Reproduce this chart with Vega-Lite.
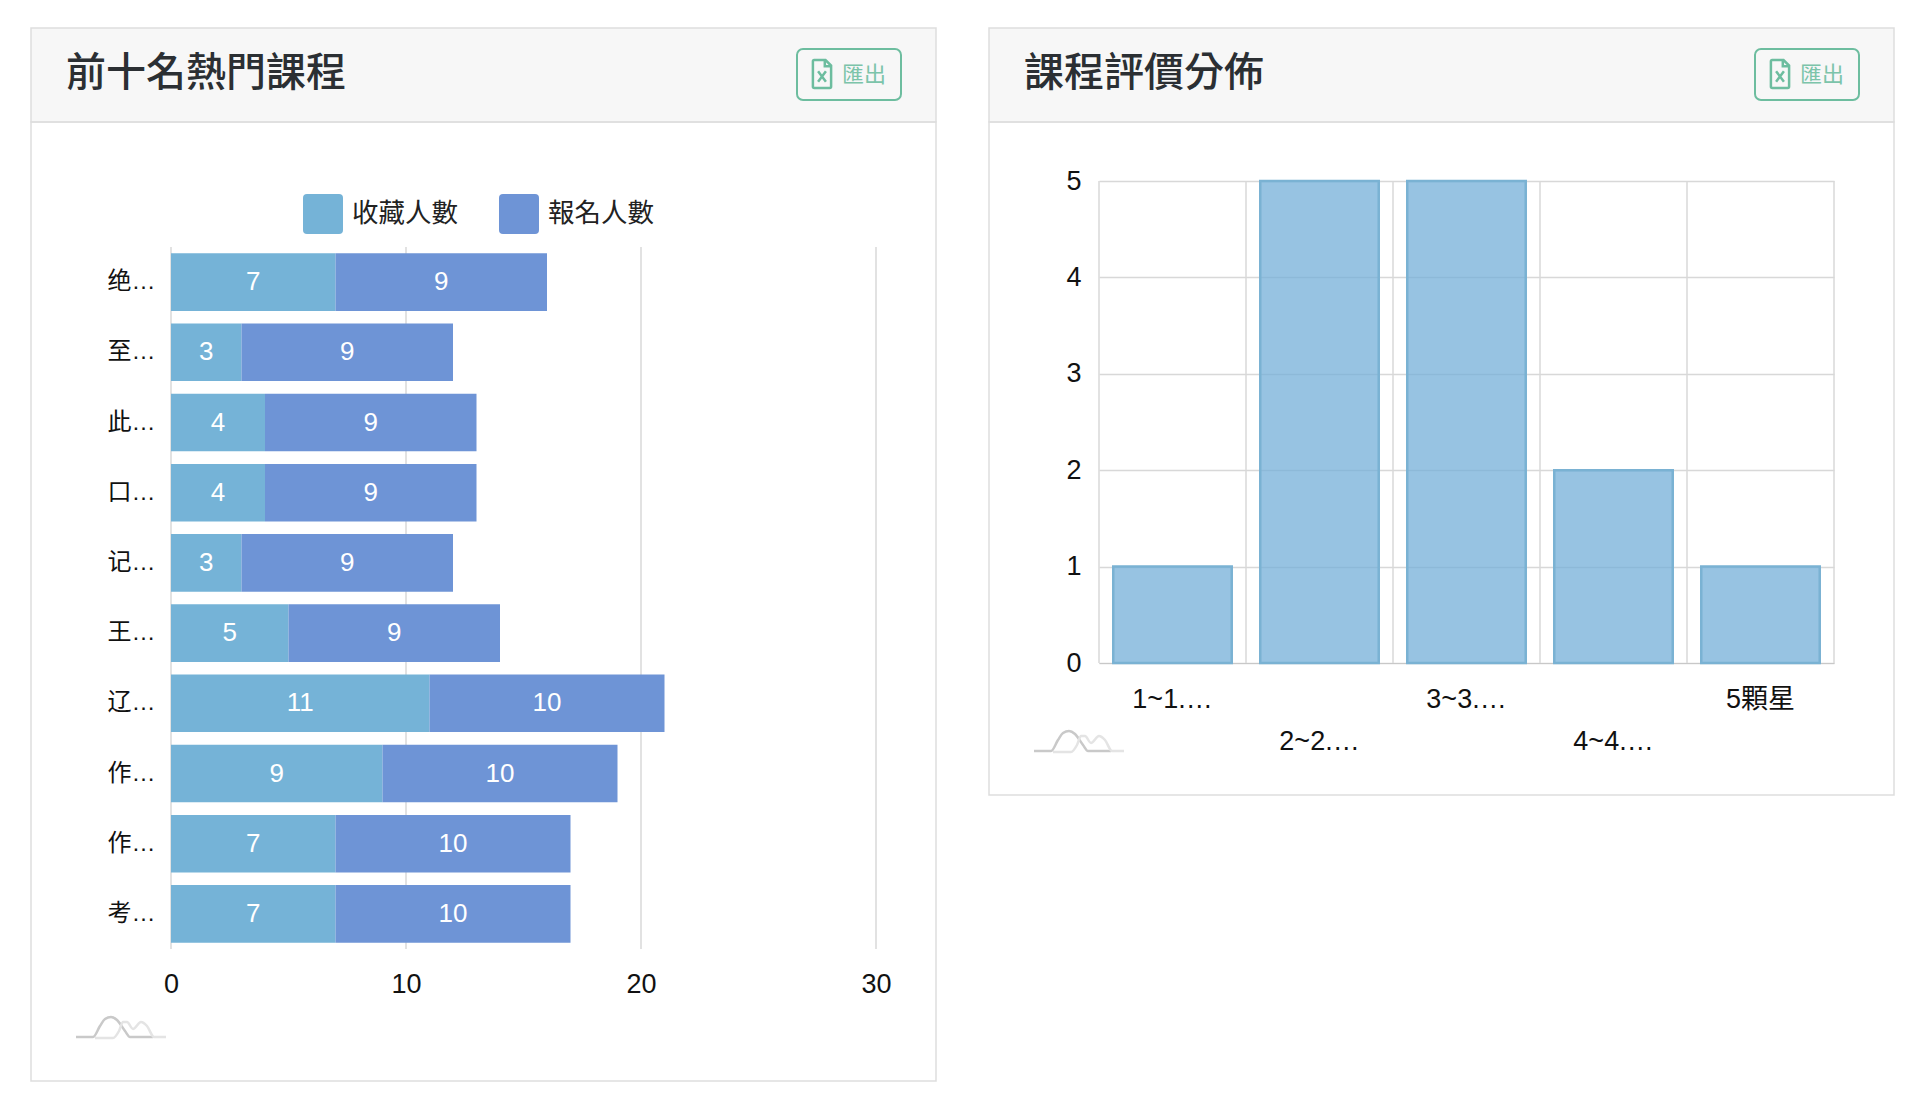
{
"$schema":"https://vega.github.io/schema/vega-lite/v6.json",
"padding":{"left":30,"top":27,"right":0,"bottom":0},
"background":"#ffffff",
"spacing":51,
"config":{"font":"Liberation Sans, Noto Sans CJK TC","view":{"stroke":"#dedede","strokeWidth":1.5},"concat":{"spacing":0}},
"datasets":{
"logoDark":[{"a":0,"b":20},{"a":17,"b":20},{"a":24,"b":9},{"a":29,"b":2},{"a":35,"b":0},{"a":41,"b":3},{"a":49,"b":14},{"a":54,"b":20},{"a":77,"b":20}],
"logoLight":[{"a":19,"b":21},{"a":37,"b":21},{"a":43,"b":14},{"a":47,"b":5},{"a":51,"b":5},{"a":57,"b":12},{"a":65,"b":5},{"a":71,"b":9},{"a":78,"b":20},{"a":90,"b":20}],
"courses":[
{"course":"绝…","series":"收藏人數","s":0,"n":7},{"course":"绝…","series":"報名人數","s":1,"n":9},
{"course":"至…","series":"收藏人數","s":0,"n":3},{"course":"至…","series":"報名人數","s":1,"n":9},
{"course":"此…","series":"收藏人數","s":0,"n":4},{"course":"此…","series":"報名人數","s":1,"n":9},
{"course":"口…","series":"收藏人數","s":0,"n":4},{"course":"口…","series":"報名人數","s":1,"n":9},
{"course":"记…","series":"收藏人數","s":0,"n":3},{"course":"记…","series":"報名人數","s":1,"n":9},
{"course":"王…","series":"收藏人數","s":0,"n":5},{"course":"王…","series":"報名人數","s":1,"n":9},
{"course":"辽…","series":"收藏人數","s":0,"n":11},{"course":"辽…","series":"報名人數","s":1,"n":10},
{"course":"作…","series":"收藏人數","s":0,"n":9},{"course":"作…","series":"報名人數","s":1,"n":10},
{"course":"作… ","series":"收藏人數","s":0,"n":7},{"course":"作… ","series":"報名人數","s":1,"n":10},
{"course":"考…","series":"收藏人數","s":0,"n":7},{"course":"考…","series":"報名人數","s":1,"n":10}
],
"ratings":[{"rating":"1~1.…","count":1},{"rating":"2~2.…","count":5},{"rating":"3~3.…","count":5},{"rating":"4~4.…","count":2},{"rating":"5顆星","count":1}]
},
"hconcat":[
{"spacing":0,"bounds":"flush","vconcat":[
{"width":905,"height":94,"view":{"fill":"#f7f7f7"},"data":{"values":[{"title":"前十名熱門課程","btn":"匯出"}]},
"encoding":{},
"layer":[
{"mark":{"type":"rect","fill":"#f7f7f7","stroke":"#6dbd9f","strokeWidth":2,"cornerRadius":6},"encoding":{"x":{"datum":766,"type":"quantitative","scale":{"domain":[0,905],"range":[0,905],"nice":false},"axis":null},"x2":{"datum":870},"y":{"datum":21,"type":"quantitative","scale":{"domain":[0,94],"range":[0,94],"nice":false},"axis":null},"y2":{"datum":72}}},
{"mark":{"type":"text","align":"left","baseline":"middle","fontSize":40,"fontWeight":500,"color":"#2b2f33","font":"Noto Sans CJK TC"},"encoding":{"text":{"field":"title"},"x":{"datum":35,"type":"quantitative"},"y":{"datum":46,"type":"quantitative"}}},
{"mark":{"type":"text","align":"left","baseline":"middle","fontSize":22,"color":"#7cc4aa","font":"Noto Sans CJK TC"},"encoding":{"text":{"field":"btn"},"x":{"datum":811,"type":"quantitative"},"y":{"datum":47,"type":"quantitative"}}},
{"mark":{"type":"point","filled":false,"size":784,"strokeWidth":2.5,"color":"#6dbd9f","opacity":1,"shape":"M-0.6,-1 L0.25,-1 L0.65,-0.6 L0.65,0.9 Q0.65,1 0.55,1 L-0.55,1 Q-0.65,1 -0.65,0.9 L-0.65,-0.9 Q-0.65,-1 -0.55,-1 Z M0.2,-1 L0.2,-0.55 L0.65,-0.55 M-0.28,-0.2 L0.28,0.55 M0.28,-0.2 L-0.28,0.55"},"encoding":{"x":{"datum":791,"type":"quantitative"},"y":{"datum":46,"type":"quantitative"}}}
]},
{"width":905,"height":959,
"resolve":{"scale":{"x":"independent","y":"independent","color":"independent"},"axis":{"x":"independent","y":"independent"}},
"layer":[
{"data":{"values":[{"g":0},{"g":10},{"g":20},{"g":30}]},"mark":{"type":"rule","color":"#d8d8d8","strokeWidth":1.5},"encoding":{"x":{"field":"g","type":"quantitative","scale":{"domain":[0,30],"range":[140,845],"nice":false},"axis":null},"y":{"datum":0,"type":"quantitative","scale":{"domain":[0,1],"range":[125,827],"nice":false},"axis":null},"y2":{"datum":1}}},
{"data":{"name":"courses"},
"transform":[{"stack":"n","groupby":["course"],"sort":[{"field":"s","order":"ascending"}],"as":["v0","v1"]}],
"encoding":{"y":{"field":"course","type":"nominal","sort":null,"scale":{"domain":["绝…","至…","此…","口…","记…","王…","辽…","作…","作… ","考…"],"range":[125,827],"paddingInner":0.18,"paddingOuter":0.09},"axis":{"title":null,"offset":-140,"ticks":false,"domain":false,"grid":false,"labelPadding":16,"labelFontSize":24,"labelColor":"#111111","labelFont":"Liberation Sans, Noto Sans CJK TC"}}},
"layer":[
{"mark":{"type":"bar"},"encoding":{
"x":{"field":"v0","type":"quantitative","scale":{"domain":[0,30],"range":[140,845],"nice":false},"axis":{"title":null,"values":[0,10,20,30],"offset":-132,"ticks":false,"domain":false,"grid":false,"labelPadding":22,"labelFontSize":27,"labelColor":"#111111","labelBaseline":"top","labelFlush":false,"labelAngle":0}},
"x2":{"field":"v1"},
"color":{"field":"series","type":"nominal","sort":null,"scale":{"domain":["收藏人數","報名人數"],"range":["#75b3d7","#6e94d6"]},
"legend":{"title":null,"orient":"none","legendX":272,"legendY":72,"direction":"horizontal","columns":2,"symbolType":"M-0.8,-1 H0.8 Q1,-1 1,-0.8 V0.8 Q1,1 0.8,1 H-0.8 Q-1,1 -1,0.8 V-0.8 Q-1,-1 -0.8,-1 Z","symbolSize":1600,"symbolStrokeWidth":0,"labelFontSize":26.5,"labelColor":"#222222","labelFont":"Noto Sans CJK TC","labelOffset":9,"columnPadding":41,"padding":0}}}},
{"transform":[{"fold":["v0","v1"],"as":["k","p"]},{"aggregate":[{"op":"mean","field":"p","as":"mid"}],"groupby":["course","series","n"]}],
"mark":{"type":"text","color":"#ffffff","fontSize":26,"baseline":"middle","align":"center"},
"encoding":{"x":{"field":"mid","type":"quantitative"},"text":{"field":"n","type":"quantitative"}}}
]},
{"data":{"name":"logoDark"},"mark":{"type":"line","color":"#c9c9c9","strokeWidth":2.5,"interpolate":"monotone"},"encoding":{"x":{"field":"a","type":"quantitative","scale":{"domain":[0,90],"range":[45,135],"nice":false},"axis":null},"y":{"field":"b","type":"quantitative","scale":{"domain":[0,20],"range":[895,915],"nice":false},"axis":null}}},
{"data":{"name":"logoLight"},"mark":{"type":"line","color":"#e4e4e4","strokeWidth":2.5,"interpolate":"monotone"},"encoding":{"x":{"field":"a","type":"quantitative","scale":{"domain":[0,90],"range":[45,135],"nice":false},"axis":null},"y":{"field":"b","type":"quantitative","scale":{"domain":[0,20],"range":[895,915],"nice":false},"axis":null}}}
]}
]},
{"spacing":0,"bounds":"flush","vconcat":[
{"width":905,"height":94,"view":{"fill":"#f7f7f7"},"data":{"values":[{"title":"課程評價分佈","btn":"匯出"}]},
"encoding":{},
"layer":[
{"mark":{"type":"rect","fill":"#f7f7f7","stroke":"#6dbd9f","strokeWidth":2,"cornerRadius":6},"encoding":{"x":{"datum":766,"type":"quantitative","scale":{"domain":[0,905],"range":[0,905],"nice":false},"axis":null},"x2":{"datum":870},"y":{"datum":21,"type":"quantitative","scale":{"domain":[0,94],"range":[0,94],"nice":false},"axis":null},"y2":{"datum":72}}},
{"mark":{"type":"text","align":"left","baseline":"middle","fontSize":40,"fontWeight":500,"color":"#2b2f33","font":"Noto Sans CJK TC"},"encoding":{"text":{"field":"title"},"x":{"datum":35,"type":"quantitative"},"y":{"datum":46,"type":"quantitative"}}},
{"mark":{"type":"text","align":"left","baseline":"middle","fontSize":22,"color":"#7cc4aa","font":"Noto Sans CJK TC"},"encoding":{"text":{"field":"btn"},"x":{"datum":811,"type":"quantitative"},"y":{"datum":47,"type":"quantitative"}}},
{"mark":{"type":"point","filled":false,"size":784,"strokeWidth":2.5,"color":"#6dbd9f","opacity":1,"shape":"M-0.6,-1 L0.25,-1 L0.65,-0.6 L0.65,0.9 Q0.65,1 0.55,1 L-0.55,1 Q-0.65,1 -0.65,0.9 L-0.65,-0.9 Q-0.65,-1 -0.55,-1 Z M0.2,-1 L0.2,-0.55 L0.65,-0.55 M-0.28,-0.2 L0.28,0.55 M0.28,-0.2 L-0.28,0.55"},"encoding":{"x":{"datum":791,"type":"quantitative"},"y":{"datum":46,"type":"quantitative"}}}
]},
{"width":905,"height":673,
"resolve":{"scale":{"x":"independent","y":"independent"},"axis":{"x":"independent","y":"independent"}},
"layer":[
{"data":{"values":[{"g":0},{"g":1},{"g":2},{"g":3},{"g":4},{"g":5}]},"mark":{"type":"rule","color":"#d8d8d8","strokeWidth":1.5},"encoding":{"x":{"field":"g","type":"quantitative","scale":{"domain":[0,5],"range":[110,845],"nice":false},"axis":null},"y":{"datum":0,"type":"quantitative","scale":{"domain":[0,5],"range":[541,59],"nice":false},"axis":null},"y2":{"datum":5}}},
{"data":{"name":"ratings"},
"mark":{"type":"bar","fill":"#74afd8","fillOpacity":0.75,"stroke":"#7ab2d3","strokeWidth":2.5},
"encoding":{
"x":{"field":"rating","type":"nominal","sort":null,"scale":{"range":[110,845],"paddingInner":0.194,"paddingOuter":0.097},"axis":{"title":null,"offset":-132,"ticks":false,"domain":true,"domainColor":"#c8c8c8","grid":false,"labelAngle":0,"labelOverlap":false,"labelPadding":23,"labelFontSize":27,"labelColor":"#111111","labelBaseline":"top","labelLineHeight":42,"labelExpr":"datum.value==='2~2.…'||datum.value==='4~4.…'?['',datum.value]:datum.value"}},
"y":{"field":"count","type":"quantitative","scale":{"domain":[0,5],"range":[541,59],"nice":false},"axis":{"title":null,"values":[0,1,2,3,4,5],"offset":-110,"ticks":false,"domain":false,"grid":true,"gridColor":"#d8d8d8","gridWidth":1.5,"labelPadding":18,"labelFontSize":27,"labelColor":"#111111"}}
}},
{"data":{"name":"logoDark"},"mark":{"type":"line","color":"#c9c9c9","strokeWidth":2.5,"interpolate":"monotone"},"encoding":{"x":{"field":"a","type":"quantitative","scale":{"domain":[0,90],"range":[45,135],"nice":false},"axis":null},"y":{"field":"b","type":"quantitative","scale":{"domain":[0,20],"range":[609,629],"nice":false},"axis":null}}},
{"data":{"name":"logoLight"},"mark":{"type":"line","color":"#e4e4e4","strokeWidth":2.5,"interpolate":"monotone"},"encoding":{"x":{"field":"a","type":"quantitative","scale":{"domain":[0,90],"range":[45,135],"nice":false},"axis":null},"y":{"field":"b","type":"quantitative","scale":{"domain":[0,20],"range":[609,629],"nice":false},"axis":null}}}
]}
]}
]
}
